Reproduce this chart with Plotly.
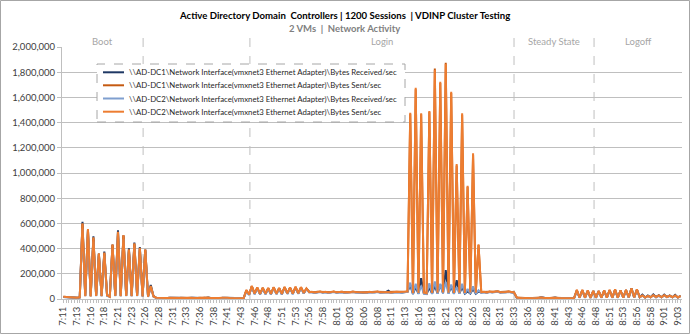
import plotly.graph_objects as go

# Network throughput of the two domain controllers, sampled every 30 s from 7:11.
# Values are in thousands of bytes per second.
DC1_RECV_K = [
    16, 14, 11, 10, 8, 9, 12,
    612, 26, 548, 24, 498, 26, 360, 24, 376, 30, 20, 432, 27, 545, 25, 505, 26, 402, 24, 448, 27, 412, 22, 392, 20, 112, 22,
    9, 7, 8, 8, 7, 9, 8, 7, 8, 9, 9, 8, 8, 10, 8, 7, 8, 8, 9, 12, 8, 7, 8, 8, 9, 10, 8, 7, 7, 8, 8, 7, 6,
    65, 34, 98, 40, 86, 38, 85, 40, 84, 38, 90, 40, 84, 38, 92, 42, 88, 40, 93, 43, 90, 46, 80, 58,
    55, 50, 54, 57, 52, 55, 50, 54, 57, 51, 53, 56, 50, 54, 52, 58, 53, 51, 55, 53, 50, 56, 52, 54, 58, 51, 53, 55, 66, 50, 54, 56, 53, 51, 55, 58,
    110, 40, 95, 42, 165, 44, 40, 90, 42, 105, 44, 115, 46, 230, 44, 100, 42, 150, 44, 95, 42, 60, 44, 80, 42, 60, 52,
    56, 50, 58, 53, 55, 60, 52, 56, 54, 58, 53, 50,
    10, 7, 6, 7, 6, 9, 7, 6, 8, 13, 8, 6, 7, 10, 12, 8, 6, 7, 6, 5, 6,
    8, 66, 10, 68, 10, 64, 9, 62, 10, 62, 10, 66, 11, 68, 10, 72, 10, 66, 11, 70, 12, 86, 12, 74, 14, 34, 12, 28, 14, 36, 15, 30, 14, 35, 15, 28, 14, 33, 12, 26,
]
DC1_SENT_K = [
    17, 15, 12, 11, 9, 10, 13,
    595, 24, 550, 22, 482, 25, 356, 24, 362, 28, 20, 428, 26, 528, 24, 502, 25, 388, 24, 436, 26, 400, 22, 388, 20, 98, 22,
    9, 8, 8, 9, 7, 10, 8, 8, 7, 10, 9, 8, 9, 10, 8, 8, 9, 7, 10, 9, 8, 8, 9, 8, 9, 11, 9, 8, 7, 8, 8, 7, 7,
    68, 36, 100, 44, 90, 41, 88, 43, 86, 41, 92, 43, 86, 41, 94, 45, 90, 43, 95, 46, 92, 48, 82, 56,
    56, 53, 57, 58, 55, 56, 53, 57, 58, 54, 56, 57, 53, 55, 55, 59, 56, 54, 56, 54, 53, 57, 55, 57, 58, 54, 56, 56, 55, 53, 57, 57, 56, 54, 56, 58,
    1470, 46, 1665, 49, 1466, 51, 47, 1485, 49, 1830, 51, 1715, 53, 1875, 51, 1635, 49, 1060, 51, 1462, 49, 890, 53, 1145, 51, 428, 56,
    57, 53, 59, 56, 56, 60, 55, 57, 57, 59, 56, 53,
    11, 8, 7, 7, 6, 8, 7, 7, 8, 11, 8, 7, 7, 8, 10, 8, 7, 7, 6, 6, 6,
    8, 70, 11, 70, 11, 66, 10, 63, 11, 63, 11, 66, 12, 70, 11, 74, 11, 66, 12, 70, 13, 82, 13, 74, 15, 27, 13, 24, 15, 29, 16, 27, 15, 29, 16, 25, 15, 27, 13, 23,
]
DC2_RECV_K = [
    15, 13, 10, 9, 8, 9, 12,
    560, 22, 520, 20, 455, 22, 340, 20, 345, 26, 17, 400, 22, 500, 20, 475, 22, 370, 20, 410, 22, 380, 18, 365, 17, 95, 18,
    8, 7, 7, 8, 7, 9, 8, 7, 7, 8, 9, 7, 8, 10, 7, 7, 8, 7, 9, 8, 7, 7, 8, 7, 9, 10, 8, 7, 6, 7, 8, 6, 6,
    60, 32, 95, 38, 84, 36, 82, 38, 80, 36, 86, 38, 80, 36, 88, 40, 84, 38, 90, 41, 86, 44, 78, 52,
    52, 48, 51, 55, 50, 53, 48, 52, 55, 49, 51, 54, 48, 52, 50, 55, 51, 49, 53, 51, 48, 54, 50, 52, 56, 49, 51, 53, 50, 48, 52, 54, 51, 49, 53, 56,
    130, 38, 120, 40, 105, 42, 38, 125, 40, 140, 42, 120, 44, 135, 42, 115, 40, 95, 42, 120, 40, 80, 42, 100, 40, 70, 48,
    54, 48, 56, 51, 53, 57, 50, 54, 52, 56, 51, 48,
    9, 7, 6, 6, 5, 8, 6, 6, 8, 11, 7, 6, 6, 8, 10, 7, 6, 6, 5, 5, 6,
    8, 64, 9, 66, 9, 62, 8, 60, 9, 60, 9, 64, 10, 66, 9, 70, 9, 62, 10, 66, 11, 80, 11, 70, 13, 26, 11, 23, 13, 28, 14, 25, 13, 27, 14, 23, 13, 25, 11, 22,
]
DC2_SENT_K = [
    18, 16, 12, 10, 9, 10, 14,
    601, 22, 556, 20, 489, 24, 362, 22, 368, 30, 18, 434, 25, 534, 22, 508, 24, 394, 22, 442, 25, 407, 20, 394, 18, 103, 20,
    10, 8, 7, 9, 8, 10, 9, 8, 7, 9, 10, 8, 9, 11, 8, 7, 9, 8, 10, 9, 8, 7, 9, 8, 10, 12, 9, 8, 7, 8, 9, 7, 6,
    72, 35, 105, 42, 92, 40, 90, 42, 88, 40, 95, 42, 88, 40, 96, 44, 92, 42, 98, 45, 95, 48, 85, 55,
    58, 52, 55, 60, 54, 57, 52, 56, 59, 53, 55, 58, 52, 56, 54, 60, 55, 53, 57, 55, 52, 58, 54, 56, 60, 53, 55, 57, 54, 52, 56, 58, 55, 53, 57, 60,
    1479, 45, 1677, 48, 1474, 50, 46, 1492, 48, 1817, 50, 1725, 52, 1865, 50, 1645, 48, 1071, 50, 1474, 48, 899, 52, 1156, 50, 434, 55,
    58, 52, 60, 55, 57, 62, 54, 58, 56, 60, 55, 52,
    12, 8, 6, 7, 6, 8, 7, 6, 9, 12, 8, 6, 7, 9, 11, 8, 6, 7, 6, 5, 6,
    8, 72, 10, 72, 10, 68, 9, 64, 10, 64, 10, 68, 11, 72, 10, 76, 10, 68, 11, 72, 12, 85, 12, 76, 14, 28, 12, 25, 14, 30, 15, 28, 14, 30, 15, 26, 14, 28, 12, 24,
]

# Every fifth sample is labelled on the time axis.
TIME_LABELS = [
    "7:11", "7:13", "7:16", "7:18", "7:21", "7:23", "7:26", "7:28", "7:31", "7:33",
    "7:36", "7:38", "7:41", "7:43", "7:46", "7:48", "7:51", "7:53", "7:56", "7:58",
    "8:01", "8:03", "8:06", "8:08", "8:11", "8:13", "8:16", "8:18", "8:21", "8:23",
    "8:26", "8:28", "8:31", "8:33", "8:36", "8:38", "8:41", "8:43", "8:46", "8:48",
    "8:51", "8:53", "8:56", "8:58", "9:01", "9:03",
]
LABEL_STEP = 5

# Test phases (sample index where each boundary falls).
PHASE_BOUNDS = [29.2, 68.3, 165.0, 194.3]
PHASES = [("Boot", -0.5, 29.2), ("Login", 68.3, 165.0),
          ("Steady State", 165.0, 194.3), ("Logoff", 194.3, None)]

SERIES = [
    (r"\\AD-DC1\Network Interface(vmxnet3 Ethernet Adapter)\Bytes Received/sec", DC1_RECV_K, "#1F3864"),
    (r"\\AD-DC1\Network Interface(vmxnet3 Ethernet Adapter)\Bytes Sent/sec", DC1_SENT_K, "#C55A11"),
    (r"\\AD-DC2\Network Interface(vmxnet3 Ethernet Adapter)\Bytes Received/sec", DC2_RECV_K, "#7F9FCF"),
    (r"\\AD-DC2\Network Interface(vmxnet3 Ethernet Adapter)\Bytes Sent/sec", DC2_SENT_K, "#ED7D31"),
]

n = len(DC2_SENT_K)
for _, vals, _ in SERIES:
    if len(vals) != n:
        raise ValueError("series lengths differ")

W_PX, H_PX = 690, 334
L, R, T, B = 62, 8, 47, 35
PW, PH = W_PX - L - R, H_PX - T - B


def px_x(p):
    return (p - L) / PW


def px_y(p):
    return (T + PH - p) / PH


FONT = "Lato, 'Open Sans', sans-serif"
GRID = "#BFBFBF"

fig = go.Figure()
xs = list(range(n))
for name, vals, color in SERIES:
    fig.add_trace(go.Scatter(
        x=xs, y=[v * 1000 for v in vals], name=name, mode="lines",
        line=dict(color=color, width=2), showlegend=False,
    ))

shapes = []
annotations = []

# Outer chart frame
shapes.append(dict(type="rect", xref="paper", yref="paper",
                   x0=px_x(0.5), x1=px_x(W_PX - 0.5), y0=px_y(H_PX - 0.5), y1=px_y(0.5),
                   line=dict(color="#A6A6A6", width=1), layer="below"))

# Phase separators and names
for b in PHASE_BOUNDS:
    shapes.append(dict(type="line", xref="x", yref="paper", x0=b, x1=b,
                       y0=0, y1=px_y(36), line=dict(color=GRID, width=1, dash="dash"),
                       layer="below"))
for label, a, b in PHASES:
    end = n - 0.5 if b is None else b
    annotations.append(dict(text=label, xref="x", yref="paper", x=(a + end) / 2,
                            y=px_y(41.5), showarrow=False, xanchor="center", yanchor="middle",
                            font=dict(family=FONT, size=9.5, color="#A6A6A6")))

# Titles
annotations.append(dict(
    text="<b>Active Directory Domain  Controllers | 1200 Sessions  | VDINP Cluster Testing</b>",
    xref="paper", yref="paper", x=px_x(344), y=px_y(15), showarrow=False,
    xanchor="center", yanchor="middle",
    font=dict(family=FONT, size=9.6, color="#000000")))
annotations.append(dict(
    text="<b>2 VMs  |  Network Activity</b>",
    xref="paper", yref="paper", x=px_x(344), y=px_y(28.5), showarrow=False,
    xanchor="center", yanchor="middle",
    font=dict(family=FONT, size=9.5, color="#808080")))

# Legend box with dashed border
lx0, lx1, ly0, ly1 = 97, 405, 64, 122
shapes.append(dict(type="rect", xref="paper", yref="paper",
                   x0=px_x(lx0), x1=px_x(lx1), y0=px_y(ly1), y1=px_y(ly0),
                   fillcolor="white", line=dict(color="#A6A6A6", width=1, dash="dash"),
                   layer="above"))
row_y = [72.3, 85.3, 98.5, 111.7]
for (name, _, color), ry in zip(SERIES, row_y):
    shapes.append(dict(type="line", xref="paper", yref="paper",
                       x0=px_x(103), x1=px_x(124), y0=px_y(ry), y1=px_y(ry),
                       line=dict(color=color, width=2), layer="above"))
    annotations.append(dict(text=name, xref="paper", yref="paper", x=px_x(127), y=px_y(ry),
                            xanchor="left", yanchor="middle", showarrow=False,
                            font=dict(family=FONT, size=7.8, color="#262626")))

fig.update_layout(
    width=W_PX, height=H_PX,
    margin=dict(l=L, r=R, t=T, b=B, pad=0),
    paper_bgcolor="white", plot_bgcolor="white",
    showlegend=False,
    shapes=shapes, annotations=annotations,
    xaxis=dict(
        range=[-0.5, n - 0.5],
        tickmode="array",
        tickvals=[i * LABEL_STEP for i in range(len(TIME_LABELS))],
        ticktext=TIME_LABELS,
        tickangle=-90,
        ticks="outside", ticklen=3, tickcolor=GRID,
        minor=dict(dtick=1, tick0=0, ticks="outside", ticklen=3, tickcolor=GRID, showgrid=False),
        showgrid=False, zeroline=False,
        showline=True, linecolor=GRID, linewidth=1,
        tickfont=dict(family=FONT, size=9.5, color="#404040"),
    ),
    yaxis=dict(
        range=[0, 2000000], dtick=200000, tickformat=",d",
        showgrid=True, gridcolor=GRID, gridwidth=1,
        zeroline=False, showline=True, linecolor=GRID, linewidth=1,
        ticks="outside", ticklen=4, tickcolor=GRID,
        tickfont=dict(family=FONT, size=9.5, color="#404040"),
    ),
)

fig.write_html("out.html")
